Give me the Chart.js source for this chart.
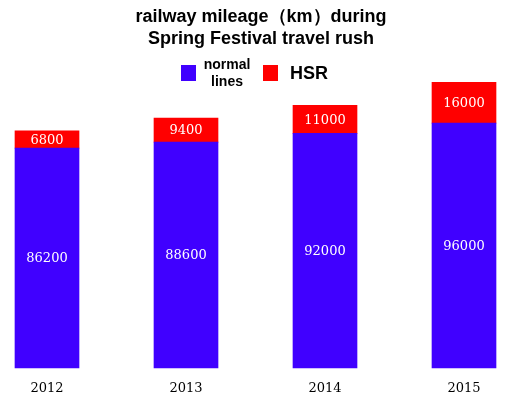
<!DOCTYPE html>
<html>
<head>
<meta charset="utf-8">
<script src="https://cdn.jsdelivr.net/npm/chart.js@4/dist/chart.umd.min.js"></script>
<style>
    html, body { margin: 0; padding: 0; background: #fff; }
    #wrap { width: 511px; height: 397px; }
</style>
</head>
<body>
<div id="wrap"><canvas id="mileageChart"></canvas></div>
<script>
const years = ['2012', '2013', '2014', '2015'];
const normalLines = [86200, 88600, 92000, 96000];
const hsr = [6800, 9400, 11000, 16000];
const seriesNames = [['normal', 'lines'], ['HSR']];
const seriesColors = ['#4000ff', '#ff0000'];
const titleLines = ['railway mileage（km）during', 'Spring Festival travel rush'];

// values written in the middle of each bar segment
const barValues = {
    id: 'barValues',
    afterDatasetsDraw(chart) {
        const ctx = chart.ctx;
        ctx.save();
        ctx.fillStyle = '#ffffff';
        ctx.font = '13px "DejaVu Serif", "Liberation Serif", serif';
        ctx.textAlign = 'center';
        ctx.textBaseline = 'middle';
        chart.data.datasets.forEach((ds, i) => {
            chart.getDatasetMeta(i).data.forEach((bar, j) => {
                const p = bar.getProps(['x', 'y', 'base'], true);
                ctx.fillText(ds.data[j], p.x, (p.y + p.base) / 2 + 1);
            });
        });
        ctx.restore();
    }
};

// title and legend (two-line label, bigger HSR text)
const headerBlock = {
    id: 'headerBlock',
    afterDraw(chart) {
        const ctx = chart.ctx;
        ctx.save();
        ctx.fillStyle = '#000';
        ctx.textAlign = 'center';
        ctx.textBaseline = 'middle';
        ctx.font = 'bold 18px "Liberation Sans", Arial, sans-serif';
        titleLines.forEach((line, k) => {
            ctx.fillText(line, 261, 17 + k * 22);
        });

        const items = [
            { box: 181, text: 227, size: 14 },
            { box: 263, text: 309, size: 18 }
        ];
        items.forEach((it, i) => {
            ctx.fillStyle = seriesColors[i];
            ctx.fillRect(it.box, 65, 15, 16);
            ctx.fillStyle = '#000';
            ctx.font = 'bold ' + it.size + 'px "Liberation Sans", Arial, sans-serif';
            const lines = seriesNames[i];
            lines.forEach((line, k) => {
                const y = 74 + (k - (lines.length - 1) / 2) * 17;
                ctx.fillText(line, it.text, y);
            });
        });
        ctx.restore();
    }
};

const chartData = {
    labels: years,
    datasets: [{
        label: seriesNames[0].join(' '),
        data: normalLines,
        backgroundColor: seriesColors[0],
        barThickness: 64,
        clip: false
    }, {
        label: seriesNames[1].join(' '),
        data: hsr,
        backgroundColor: seriesColors[1],
        barThickness: 64,
        clip: false
    }]
};

const chartConfig = {
    type: 'bar',
    data: chartData,
    options: {
        responsive: true,
        maintainAspectRatio: false,
        animation: false,
        layout: {
            padding: { top: 62, left: 47, right: 47, bottom: 0 }
        },
        plugins: {
            legend: { display: false },
            tooltip: { enabled: false },
            title: { display: false }
        },
        scales: {
            x: {
                stacked: true,
                offset: false,
                grid: { display: false, drawTicks: false },
                border: { display: false },
                afterFit(scale) {
                    scale.height = 29;
                },
                ticks: {
                    color: '#000',
                    padding: 13,
                    font: { family: '"DejaVu Serif", "Liberation Serif", serif', size: 13 }
                }
            },
            y: {
                stacked: true,
                display: false,
                min: 0,
                max: 120000
            }
        }
    },
    plugins: [barValues, headerBlock]
};

const myChart = new Chart(
    document.getElementById('mileageChart'),
    chartConfig
);
</script>
</body>
</html>
